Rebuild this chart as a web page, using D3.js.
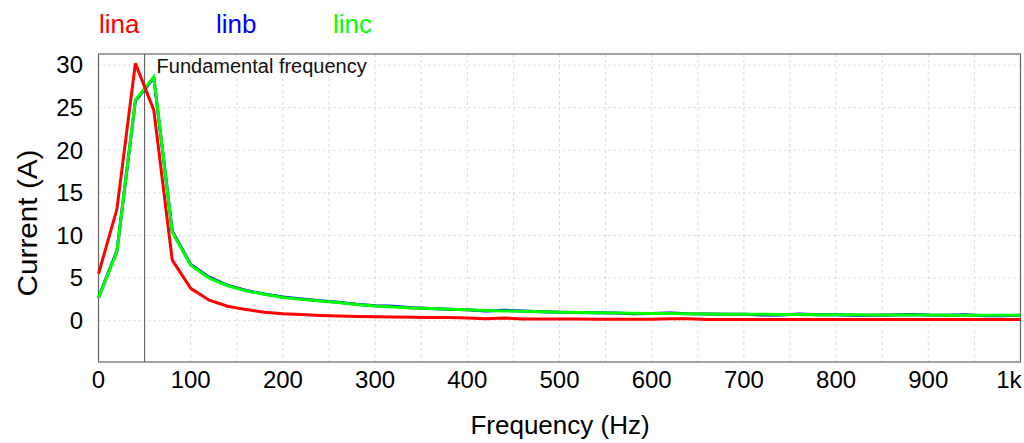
<!DOCTYPE html>
<html>
<head>
<meta charset="utf-8">
<script src="https://cdn.jsdelivr.net/npm/d3@7"></script>
<style>
  body { margin: 0; background: #fff; }
  text { font-family: Arial, "Liberation Sans", sans-serif; }
</style>
</head>
<body>
<div id="chart"></div>
<script>
// frequency bins (Hz)
const freq = [0, 20, 40, 60, 80, 100, 120, 140, 160, 180, 200, 220, 240, 260, 280, 300, 320, 340, 360, 380,
  400, 420, 440, 460, 480, 500, 520, 540, 560, 580, 600, 620, 640, 660, 680, 700, 720, 740, 760, 780,
  800, 820, 840, 860, 880, 900, 920, 940, 960, 980, 1000];

const lina = [5.5, 13.1, 30.2, 24.7, 7.1, 3.8, 2.4, 1.7, 1.3, 1.0, 0.82, 0.72, 0.62, 0.55, 0.5, 0.45, 0.42, 0.4, 0.38, 0.36,
  0.3, 0.22, 0.32, 0.2, 0.2, 0.19, 0.19, 0.18, 0.18, 0.18, 0.18, 0.24, 0.22, 0.15, 0.15, 0.15, 0.15, 0.15, 0.15, 0.15,
  0.15, 0.15, 0.15, 0.15, 0.15, 0.15, 0.15, 0.15, 0.15, 0.15, 0.15];

const linb = [2.7, 8.2, 25.8, 28.5, 10.5, 6.6, 5.1, 4.15, 3.55, 3.12, 2.78, 2.55, 2.35, 2.15, 1.92, 1.74, 1.7, 1.52, 1.43, 1.35,
  1.28, 1.15, 1.22, 1.15, 1.05, 1.0, 0.95, 0.93, 0.9, 0.82, 0.85, 0.9, 0.8, 0.78, 0.76, 0.75, 0.68, 0.66, 0.78, 0.71,
  0.7, 0.63, 0.63, 0.68, 0.72, 0.66, 0.65, 0.7, 0.58, 0.58, 0.63];

const linc = [2.7, 8.1, 25.9, 28.6, 10.4, 6.5, 5.0, 4.1, 3.5, 3.1, 2.73, 2.5, 2.3, 2.12, 1.9, 1.72, 1.6, 1.5, 1.42, 1.35,
  1.28, 1.2, 1.15, 1.1, 1.05, 1.0, 0.95, 0.93, 0.9, 0.88, 0.85, 0.83, 0.8, 0.78, 0.76, 0.75, 0.74, 0.73, 0.72, 0.71,
  0.7, 0.69, 0.68, 0.68, 0.67, 0.66, 0.65, 0.65, 0.64, 0.63, 0.63];

const seriesNames = ["lina", "linb", "linc"];
const seriesColors = ["#ff0000", "#0000ff", "#00ff00"];
const xTicks = [0, 100, 200, 300, 400, 500, 600, 700, 800, 900, 1000];
const xTickLabels = ["0", "100", "200", "300", "400", "500", "600", "700", "800", "900", "1k"];
const yTicks = [0, 5, 10, 15, 20, 25, 30];
const fundamental = 50;

const width = 1024, height = 443;
const svg = d3.select("#chart").append("svg")
  .attr("width", width)
  .attr("height", height);

const x = d3.scaleLinear().domain([0, 1000]).range([98.5, 1020.5]);
const y = d3.scaleLinear().domain([-4.85, 31.3]).range([362, 54]);

// grid
svg.selectAll(".vgrid")
  .data(d3.range(50, 1000, 50))
  .join("line")
  .attr("x1", d => x(d)).attr("x2", d => x(d))
  .attr("y1", y.range()[1]).attr("y2", y.range()[0])
  .attr("stroke", "#d6ded6")
  .attr("stroke-dasharray", "3,3");

svg.selectAll(".hgrid")
  .data(yTicks)
  .join("line")
  .attr("x1", x.range()[0]).attr("x2", x.range()[1])
  .attr("y1", d => y(d)).attr("y2", d => y(d))
  .attr("stroke", "#d6d6d6")
  .attr("stroke-dasharray", "2,3");

// frame
svg.append("rect")
  .attr("x", x.range()[0])
  .attr("y", y.range()[1])
  .attr("width", x.range()[1] - x.range()[0])
  .attr("height", y.range()[0] - y.range()[1])
  .attr("fill", "none")
  .attr("stroke", "#666")
  .attr("stroke-width", 1.2);

// fundamental frequency marker
svg.append("line")
  .attr("x1", x(fundamental)).attr("x2", x(fundamental))
  .attr("y1", y.range()[1]).attr("y2", y.range()[0])
  .attr("stroke", "#555")
  .attr("stroke-width", 1);

svg.append("text")
  .attr("x", x(fundamental) + 12)
  .attr("y", 73)
  .style("font-size", "20px")
  .style("fill", "#111")
  .text("Fundamental frequency");

// lines: blue first, then green, red on top
const line = d3.line()
  .x((d, i) => x(freq[i]))
  .y(d => y(d));

[[linb, seriesColors[1]], [linc, seriesColors[2]], [lina, seriesColors[0]]].forEach(([vals, col]) => {
  svg.append("path")
    .datum(vals)
    .attr("d", line)
    .attr("fill", "none")
    .attr("stroke", col)
    .attr("stroke-width", 3)
    .attr("stroke-linejoin", "miter");
});

// axis labels
svg.selectAll(".xlab")
  .data(xTicks)
  .join("text")
  .attr("x", (d, i) => i === xTicks.length - 1 ? x(d) + 1 : x(d))
  .attr("y", 388)
  .attr("text-anchor", (d, i) => i === xTicks.length - 1 ? "end" : "middle")
  .style("font-size", "24px")
  .style("fill", "#000")
  .text((d, i) => xTickLabels[i]);

svg.selectAll(".ylab")
  .data(yTicks)
  .join("text")
  .attr("x", 83)
  .attr("y", d => y(d))
  .attr("dy", "0.35em")
  .attr("text-anchor", "end")
  .style("font-size", "24px")
  .style("fill", "#000")
  .text(d => d);

svg.append("text")
  .attr("x", 560)
  .attr("y", 434)
  .attr("text-anchor", "middle")
  .style("font-size", "26px")
  .style("fill", "#000")
  .text("Frequency (Hz)");

svg.append("text")
  .attr("transform", "translate(37,223) rotate(-90)")
  .attr("text-anchor", "middle")
  .attr("textLength", 147)
  .attr("lengthAdjust", "spacingAndGlyphs")
  .style("font-size", "28px")
  .style("fill", "#000")
  .text("Current (A)");

// legend
const legendX = [99, 216, 333];
svg.selectAll(".legend")
  .data(seriesNames)
  .join("text")
  .attr("x", (d, i) => legendX[i])
  .attr("y", 33)
  .style("font-size", "26px")
  .style("fill", (d, i) => seriesColors[i])
  .text(d => d);
</script>
</body>
</html>
